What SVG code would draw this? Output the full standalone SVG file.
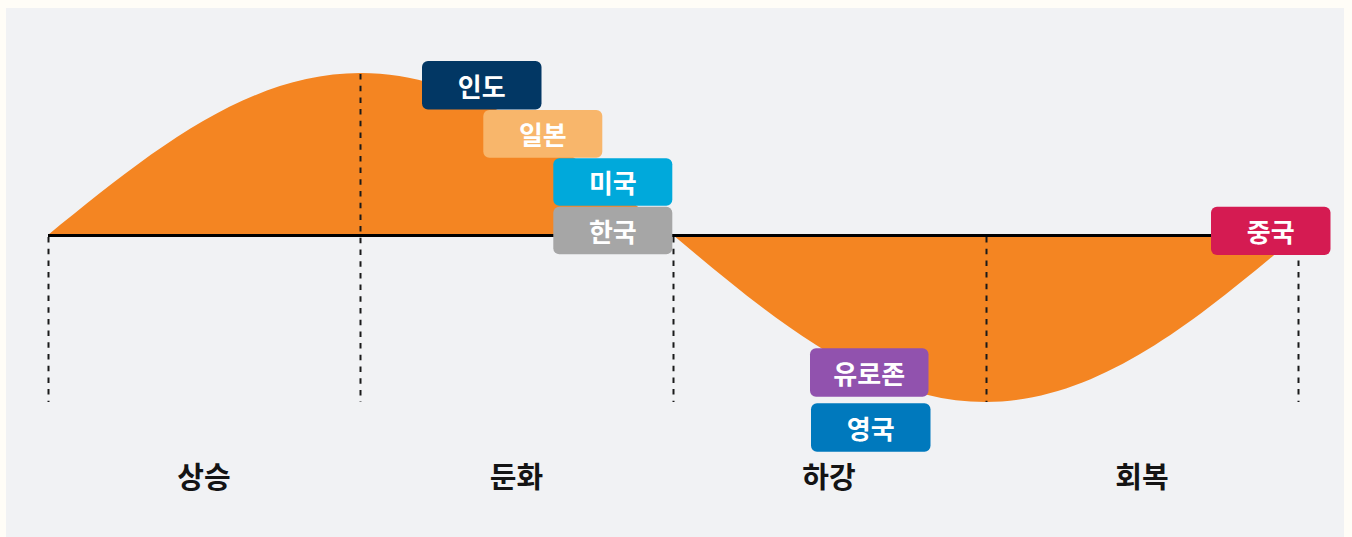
<svg xmlns="http://www.w3.org/2000/svg" width="1352" height="537" viewBox="0 0 1352 537">
  <style>
    .lbl { font-family: "Noto Sans CJK KR", "Noto Sans", sans-serif; font-weight: 700; font-size: 26px; fill: #ffffff; text-anchor: middle; dominant-baseline: central; }
    .phase { font-family: "Noto Sans CJK KR", "Noto Sans", sans-serif; font-weight: 700; font-size: 29px; fill: #141414; text-anchor: middle; dominant-baseline: central; }
    .dash { stroke: #1a1a1a; stroke-width: 2; stroke-dasharray: 5.5 6.2; fill: none; }
  </style>
  <rect x="0" y="0" width="1352" height="537" fill="#FFFDF7"/>
  <rect x="6" y="8" width="1338" height="529" fill="#F1F2F4"/>

  <g id="wave">
    <path d="M48,235 C149.9,152 247.4,73 360.5,73 C473.6,73 571.1,152 673,235 C774.9,320.6 872.4,402 985.5,402 C1098.6,402 1196.1,320.6 1298,235 Z" fill="#F48522"/>
  </g>

  <g id="connectors">
    <line x1="48" y1="235.5" x2="1298" y2="235.5" stroke="#000" stroke-width="3"/>
    <line class="dash" x1="48.5" y1="237" x2="48.5" y2="402"/>
    <line class="dash" x1="360.5" y1="74" x2="360.5" y2="402"/>
    <line class="dash" x1="673.5" y1="237" x2="673.5" y2="402"/>
    <line class="dash" x1="986.5" y1="237" x2="986.5" y2="402"/>
    <line class="dash" x1="1298.5" y1="237" x2="1298.5" y2="402"/>
  </g>

  <g id="node-india">
    <rect x="422" y="61" width="119.5" height="48.5" rx="6" fill="#023764"/>
    <text class="lbl" x="481.7" y="85">인도</text>
  </g>
  <g id="node-japan">
    <rect x="483.3" y="110" width="119" height="47.7" rx="6" fill="#F8B66B"/>
    <text class="lbl" x="542.8" y="133.6">일본</text>
  </g>
  <g id="node-usa">
    <rect x="553.3" y="158.3" width="119" height="47.4" rx="6" fill="#00A9DB"/>
    <text class="lbl" x="612.8" y="181.8">미국</text>
  </g>
  <g id="node-korea">
    <rect x="553.3" y="206.7" width="119" height="47.6" rx="6" fill="#A6A6A6"/>
    <text class="lbl" x="612.8" y="230.3">한국</text>
  </g>
  <g id="node-eurozone">
    <rect x="810" y="348.3" width="118.5" height="48.4" rx="6" fill="#9152AE"/>
    <text class="lbl" x="869.2" y="372.3">유로존</text>
  </g>
  <g id="node-uk">
    <rect x="811" y="403.3" width="119.5" height="48.4" rx="6" fill="#0079BD"/>
    <text class="lbl" x="870.7" y="427.3">영국</text>
  </g>
  <g id="node-china">
    <rect x="1211" y="206.7" width="119.5" height="48.3" rx="6" fill="#D51B52"/>
    <text class="lbl" x="1270.7" y="230.6">중국</text>
  </g>

  <g id="phase-labels">
    <text class="phase" x="204" y="475">상승</text>
    <text class="phase" x="516.5" y="475">둔화</text>
    <text class="phase" x="829" y="475">하강</text>
    <text class="phase" x="1142" y="475">회복</text>
  </g>
</svg>
